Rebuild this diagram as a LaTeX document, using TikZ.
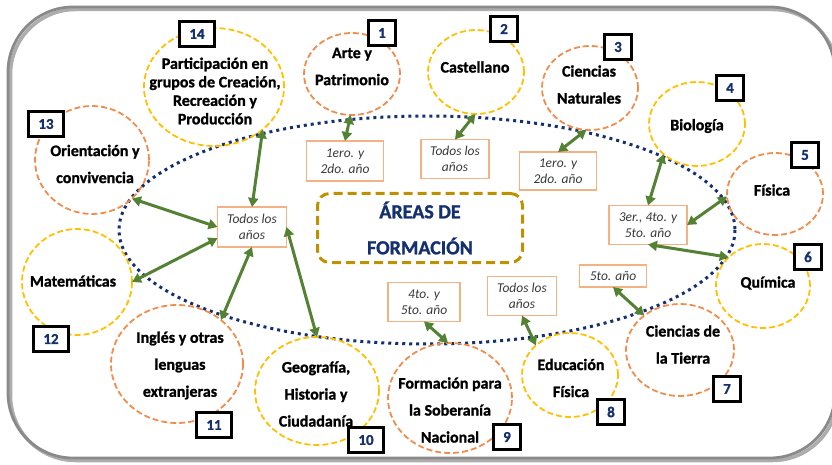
\documentclass[tikz,border=0pt]{standalone}
\usepackage{fontspec}
\setmainfont{Carlito}[BoldFeatures={FakeBold=1.2}]
\usetikzlibrary{shapes.geometric,arrows.meta,calc}
\definecolor{orng}{HTML}{F08C4C}
\definecolor{yllw}{HTML}{FFC000}
\definecolor{yborder}{HTML}{F4B183}
\definecolor{ytext}{HTML}{3A3A3A}
\definecolor{grn}{HTML}{548235}
\definecolor{navy}{HTML}{14306E}
\definecolor{gold}{HTML}{BF9000}
\definecolor{frame}{HTML}{8A8A8A}
\begin{document}
\begin{tikzpicture}[x=1pt,y=-1pt,
  circo/.style={ellipse, draw=orng, line width=1.8pt, dash pattern=on 6pt off 3pt, inner sep=0pt, outer sep=0pt},
  circy/.style={ellipse, draw=yllw, line width=1.8pt, dash pattern=on 6pt off 3pt, inner sep=0pt, outer sep=0pt},
  ctext/.style={align=center, inner sep=0pt, font=\bfseries\fontsize{16}{27}\selectfont, text=black},
  yearbox/.style={draw=yborder, line width=1.2pt, fill=white, inner sep=0pt, outer sep=0pt, align=center, font=\itshape\fontsize{13.5}{16}\selectfont, text=ytext},
  numbox/.style={draw=black, line width=2.2pt, fill=white, minimum height=25pt, minimum width=27pt, inner sep=0pt, font=\bfseries\fontsize{15}{15}\selectfont, text=navy},
  numboxw/.style={numbox, minimum width=35pt},
  arr/.style={draw=grn, line width=3pt, {Triangle[length=9pt,width=10pt]}-{Triangle[length=9pt,width=10pt]}, shorten <=0pt, shorten >=0pt},
  centerbox/.style={draw=gold, line width=3pt, dash pattern=on 9pt off 5pt, rounded corners=12pt, inner sep=0pt, align=center, font=\bfseries\fontsize{20}{36}\selectfont, text=navy}
]
\useasboundingbox (0,0) rectangle (832,465);
% outer frame with shadow
\draw[frame!70, line width=3.5pt, rounded corners=65pt] (10.5,9.5) rectangle (837.5,460.5);
\draw[frame, line width=2.8pt, rounded corners=65pt] (8,7) rectangle (835,458);
% dotted ellipse
\draw[navy, line width=3pt, dash pattern=on 3pt off 4pt] (427,230) ellipse [x radius=308, y radius=114];
% circles
\node[circo, minimum width=96pt, minimum height=82pt] (c1) at (352,74) {};
\node[circy, minimum width=96pt, minimum height=84pt] (c2) at (476,72) {};
\node[circo, minimum width=96pt, minimum height=84pt] (c3) at (590,88) {};
\node[circy, minimum width=96pt, minimum height=84pt] (c4) at (697,124) {};
\node[circo, minimum width=96pt, minimum height=82pt] (c5) at (775,194) {};
\node[circy, minimum width=94pt, minimum height=84pt] (c6) at (763,286) {};
\node[circo, minimum width=108pt, minimum height=92pt] (c7) at (680,350) {};
\node[circy, minimum width=96pt, minimum height=84pt] (c8) at (570,375) {};
\node[circo, minimum width=124pt, minimum height=110pt] (c9) at (450,398) {};
\node[circy, minimum width=124pt, minimum height=108pt] (c10) at (317,391) {};
\node[circo, minimum width=132pt, minimum height=118pt] (c11) at (177,364) {};
\node[circy, minimum width=110pt, minimum height=106pt] (c12) at (77,282) {};
\node[circo, minimum width=114pt, minimum height=108pt] (c13) at (92,160) {};
\node[circy, minimum width=140pt, minimum height=118pt] (c14) at (214,87) {};
% year boxes
\node[yearbox, minimum width=77pt, minimum height=40pt] (yA) at (345,161) {1ero. y\\2do. año};
\node[yearbox, minimum width=68pt, minimum height=39pt] (yB) at (455,159) {Todos los\\años};
\node[yearbox, minimum width=77pt, minimum height=38pt] (yC) at (558,171) {1ero. y\\2do. año};
\node[yearbox, minimum width=78pt, minimum height=39pt] (yD) at (648,225) {3er., 4to. y\\5to. año};
\node[yearbox, minimum width=67pt, minimum height=22pt] (yE) at (613,276) {5to. año};
\node[yearbox, minimum width=69pt, minimum height=39pt] (yG) at (522,296) {Todos los\\años};
\node[yearbox, minimum width=72pt, minimum height=39pt] (yH) at (424,302) {4to. y\\5to. año};
\node[yearbox, minimum width=69pt, minimum height=40pt] (yI) at (252,227) {Todos los\\años};
% center box
\node[centerbox, minimum width=205pt, minimum height=69pt] (ctr) at (420,228) {ÁREAS DE\\FORMACIÓN};
% arrows
\draw[arr] (c1.-92) -- (yA.north);
\draw[arr] (c2.-91) -- (yB.north);
\draw[arr] (c3.-95) -- (yC.north);
\draw[arr] (c4.-138) -- (yD.north);
\draw[arr] (c5.183) -- (yD.east);
\draw[arr] (c6.140) -- (yD.south);
\draw[arr] (c7.136) -- (yE.south);
\draw[arr] (c8.139) -- (yG.south);
\draw[arr] (c9.92) -- (yH.south);
\draw[arr] (c10.90) -- (yI.east);
\draw[arr] (c11.45) -- (yI.south);
\draw[arr] (c12.0) -- (yI.198);
\draw[arr] (c13.-44) -- (yI.west);
\draw[arr] (c14.-41) -- (yI.north);
% circle texts
\node[ctext] (t1) at (352,66.5) {Arte y\\Patrimonio};
\node[ctext] (t2) at (475,67) {Castellano};
\node[ctext] (t3) at (589,84.5) {Ciencias\\Naturales};
\node[ctext] (t4) at (697,126) {Biología};
\node[ctext] (t5) at (772,190) {Física};
\node[ctext] (t6) at (768,283) {Química};
\node[ctext] (t7) at (683,344.5) {Ciencias de\\la Tierra};
\node[ctext] (t8) at (571,378) {Educación\\Física};
\node[ctext] (t9) at (450,410) {Formación para\\la Soberanía\\Nacional};
\node[ctext] (t10) at (316,394) {Geografía,\\Historia y\\Ciudadanía};
\node[ctext] (t11) at (180,365.5) {Inglés y otras\\lenguas\\extranjeras};
\node[ctext] (t12) at (73,281) {Matemáticas};
\node[ctext] (t13) at (95,164) {Orientación y\\convivencia};
\node[ctext, font=\bfseries\fontsize{16}{18.5}\selectfont] (t14) at (215,91) {Participación en\\grupos de Creación,\\Recreación y\\Producción};
% number boxes
\node[numbox] (n1) at (382,33) {1};
\node[numbox] (n2) at (504,29) {2};
\node[numbox] (n3) at (618,47) {3};
\node[numbox] (n4) at (730,88) {4};
\node[numbox] (n5) at (805,155) {5};
\node[numbox] (n6) at (808,257) {6};
\node[numbox] (n7) at (727,389) {7};
\node[numbox] (n8) at (611,412) {8};
\node[numbox] (n9) at (507,437) {9};
\node[numboxw] (n10) at (366,440) {10};
\node[numboxw] (n11) at (214,425) {11};
\node[numboxw] (n12) at (51,339) {12};
\node[numboxw] (n13) at (46,124) {13};
\node[numboxw] (n14) at (197,34) {14};
\end{tikzpicture}
\end{document}
